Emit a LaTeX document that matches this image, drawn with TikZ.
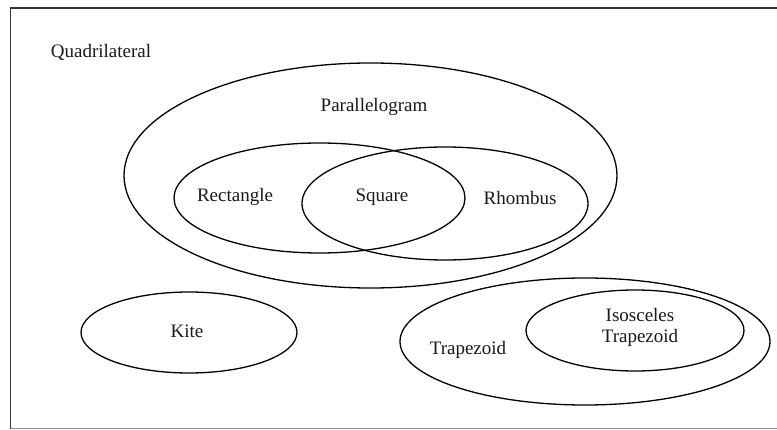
\documentclass[tikz,border=0pt]{standalone}
\usepackage{fontspec}
\setmainfont{Liberation Serif}
\usetikzlibrary{shapes.geometric}
\begin{document}
\begin{tikzpicture}[x=1pt,y=-1pt,
  set/.style={draw=black,line width=1.3pt,ellipse,inner sep=0pt,outer sep=0pt},
  lbl/.style={inner sep=0pt,font=\fontsize{19}{21}\selectfont,text=black!90},
  frame/.style={draw=black!80,line width=1.4pt}]
\useasboundingbox (0,0) rectangle (777,430);
% frame
\coordinate (ftr) at (777,8);
\coordinate (ftl) at (10.5,8);
\coordinate (fbl) at (10.5,429);
\coordinate (fbr) at (777,429);
\draw[frame] (ftr) -- (ftl) -- (fbl);
\draw[draw=black!45,line width=1pt] (fbl) -- (fbr);
% sets
\node[set,minimum width=493pt,minimum height=225pt] (para) at (370.5,175.5) {};
\node[set,minimum width=291pt,minimum height=110pt] (rect) at (319.5,198) {};
\node[set,minimum width=286pt,minimum height=113pt] (rhom) at (445,203.5) {};
\node[set,minimum width=216pt,minimum height=81pt] (kite) at (189,332.5) {};
\node[set,minimum width=370pt,minimum height=127pt] (trap) at (585,341.5) {};
\node[set,minimum width=218pt,minimum height=81pt] (isos) at (635,330.5) {};
% labels
\node[lbl] (lquad) at (101,52) {Quadrilateral};
\node[lbl] (lpara) at (374,107) {Parallelogram};
\node[lbl] (lrect) at (235,197) {Rectangle};
\node[lbl] (lsq) at (382,197) {Square};
\node[lbl] (lrhom) at (520,198) {Rhombus};
\node[lbl] (lkite) at (187,331) {Kite};
\node[lbl] (ltrap) at (468,350) {Trapezoid};
\node[lbl,align=center] (lisos) at (640,327.5) {Isosceles\\Trapezoid};
\end{tikzpicture}
\end{document}
